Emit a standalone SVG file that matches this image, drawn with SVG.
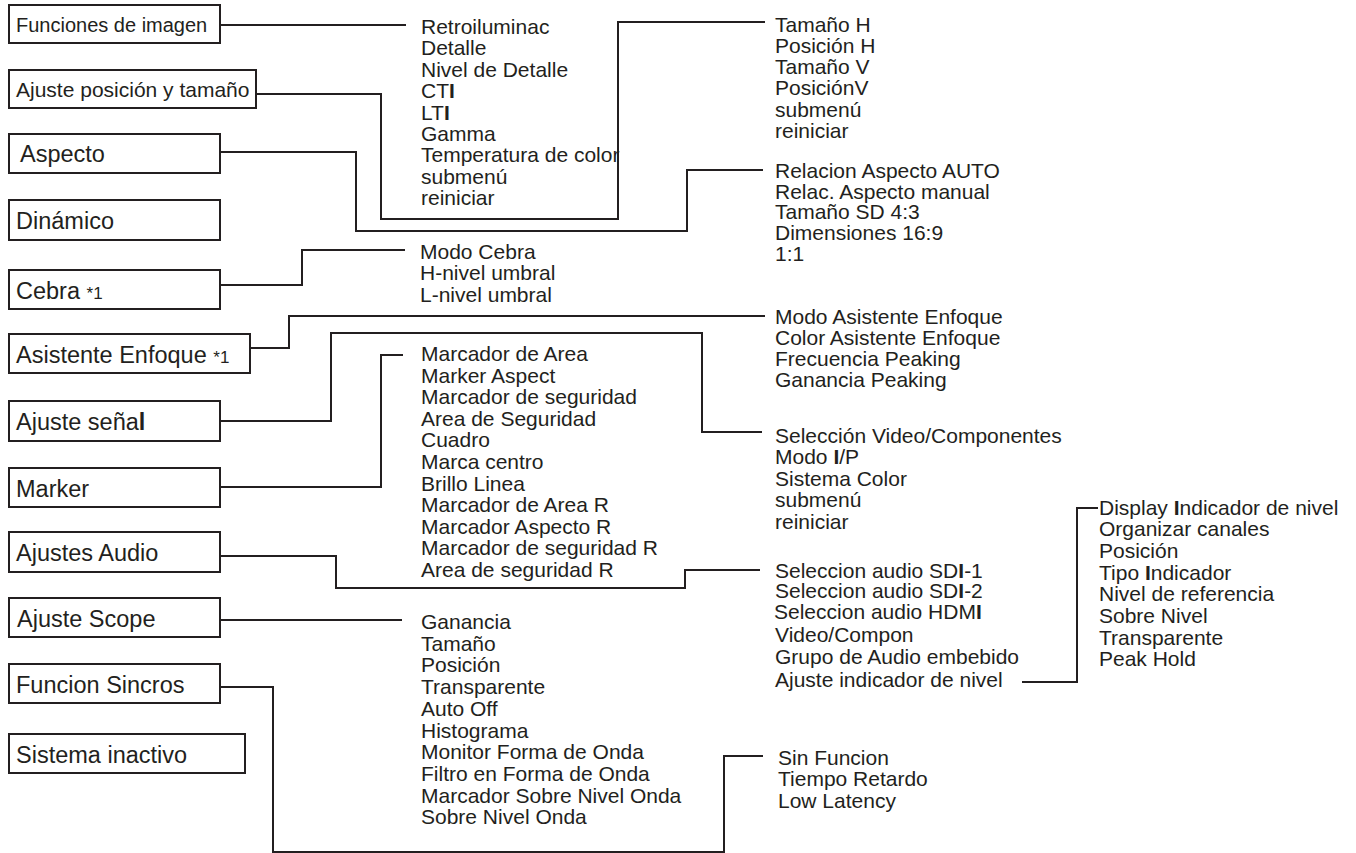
<svg xmlns="http://www.w3.org/2000/svg" width="1356" height="853" viewBox="0 0 1356 853">
<defs>
<style>
.box rect{fill:#fff;stroke:#231f20;stroke-width:2}
.lbl{font-family:"Liberation Sans",Arial,Helvetica,sans-serif;font-size:23.5px;fill:#231f20}
.sm{font-size:17px}
.lst{font-family:"Liberation Sans",Arial,Helvetica,sans-serif;font-size:21px;fill:#231f20}
.b{font-weight:bold}
#connectors path{fill:none;stroke:#231f20;stroke-width:2}
</style>
</defs>
<rect width="1356" height="853" fill="#fff"/>
<g id="connectors">
<path d="M220 25 H406"/>
<path d="M256 94 H381 V219 H618 V22 H765"/>
<path d="M220 152 H356 V231 H687 V170 H763"/>
<path d="M220 285 H302 V250 H405"/>
<path d="M250 348 H289 V316 H765"/>
<path d="M220 421 H331 V333 H702 V432 H762"/>
<path d="M220 487 H381 V355 H403"/>
<path d="M220 556 H336 V588 H685 V570 H760"/>
<path d="M221 620 H402"/>
<path d="M220 687 H273 V852 H724 V756 H763"/>
<path d="M1022 682 H1077 V508 H1098"/>
</g>
<g id="n-funciones" class="box"><rect x="9" y="5" width="211" height="38"/><text class="lbl" x="16" y="32" style="font-size:20px">Funciones de imagen</text></g>
<g id="n-ajuste-pos" class="box"><rect x="9" y="70" width="247" height="38"/><text class="lbl" x="16" y="96.5" style="font-size:21px">Ajuste posición y tamaño</text></g>
<g id="n-aspecto" class="box"><rect x="9" y="134" width="211" height="39"/><text class="lbl" x="20" y="162">Aspecto</text></g>
<g id="n-dinamico" class="box"><rect x="9" y="200" width="211" height="40"/><text class="lbl" x="16" y="228.5">Dinámico</text></g>
<g id="n-cebra" class="box"><rect x="9" y="270" width="211" height="39"/><text class="lbl" x="16" y="298.5">Cebra <tspan class="sm">*1</tspan></text></g>
<g id="n-asistente" class="box"><rect x="9" y="334" width="241" height="39"/><text class="lbl" x="16" y="362.5">Asistente Enfoque <tspan class="sm">*1</tspan></text></g>
<g id="n-senal" class="box"><rect x="9" y="401" width="211" height="40"/><text class="lbl" x="16" y="430">Ajuste seña<tspan class="b">l</tspan></text></g>
<g id="n-marker" class="box"><rect x="9" y="468" width="211" height="39"/><text class="lbl" x="16" y="496.5">Marker</text></g>
<g id="n-audio" class="box"><rect x="9" y="532" width="211" height="40"/><text class="lbl" x="16" y="561">Ajustes Audio</text></g>
<g id="n-scope" class="box"><rect x="9" y="598" width="211" height="39"/><text class="lbl" x="17" y="626.5">Ajuste Scope</text></g>
<g id="n-sincros" class="box"><rect x="9" y="664" width="211" height="39"/><text class="lbl" x="16" y="692.5">Funcion Sincros</text></g>
<g id="n-inactivo" class="box"><rect x="9" y="734" width="236" height="39"/><text class="lbl" x="16" y="762.5">Sistema inactivo</text></g>
<g id="list-imagen" class="lst">
<text x="421" y="34">Retroiluminac</text>
<text x="421" y="55.4">Detalle</text>
<text x="421" y="76.8">Nivel de Detalle</text>
<text x="421" y="98.2">CT<tspan class="b">I</tspan></text>
<text x="421" y="119.6">LT<tspan class="b">I</tspan></text>
<text x="421" y="141">Gamma</text>
<text x="421" y="162.4">Temperatura de color</text>
<text x="421" y="183.8">submenú</text>
<text x="421" y="205.2">reiniciar</text>
</g>
<g id="list-posicion" class="lst">
<text x="775" y="31.5">Tamaño H</text>
<text x="775" y="52.8">Posición H</text>
<text x="775" y="74.1">Tamaño V</text>
<text x="775" y="95.4">PosiciónV</text>
<text x="775" y="116.7">submenú</text>
<text x="775" y="138">reiniciar</text>
</g>
<g id="list-aspecto" class="lst">
<text x="775" y="178">Relacion Aspecto AUTO</text>
<text x="775" y="198.7">Relac. Aspecto manual</text>
<text x="775" y="219.4">Tamaño SD 4:3</text>
<text x="775" y="240.1">Dimensiones 16:9</text>
<text x="775" y="260.8">1:1</text>
</g>
<g id="list-cebra" class="lst">
<text x="420" y="258.5">Modo Cebra</text>
<text x="420" y="280">H-nivel umbral</text>
<text x="420" y="301.5">L-nivel umbral</text>
</g>
<g id="list-enfoque" class="lst">
<text x="775" y="323.5">Modo Asistente Enfoque</text>
<text x="775" y="344.8">Color Asistente Enfoque</text>
<text x="775" y="366.1">Frecuencia Peaking</text>
<text x="775" y="387.4">Ganancia Peaking</text>
</g>
<g id="list-marker" class="lst">
<text x="421" y="361">Marcador de Area</text>
<text x="421" y="382.6">Marker Aspect</text>
<text x="421" y="404.2">Marcador de seguridad</text>
<text x="421" y="425.8">Area de Seguridad</text>
<text x="421" y="447.4">Cuadro</text>
<text x="421" y="469">Marca centro</text>
<text x="421" y="490.6">Brillo Linea</text>
<text x="421" y="512.2">Marcador de Area R</text>
<text x="421" y="533.8">Marcador Aspecto R</text>
<text x="421" y="555.4">Marcador de seguridad R</text>
<text x="421" y="577">Area de seguridad R</text>
</g>
<g id="list-senal" class="lst">
<text x="775" y="442.5">Selección Video/Componentes</text>
<text x="775" y="464">Modo <tspan class="b">I</tspan>/P</text>
<text x="775" y="485.5">Sistema Color</text>
<text x="775" y="507">submenú</text>
<text x="775" y="528.5">reiniciar</text>
</g>
<g id="list-audio" class="lst">
<text x="775" y="577.5">Seleccion audio SD<tspan class="b">I</tspan>-1</text>
<text x="775" y="598">Seleccion audio SD<tspan class="b">I</tspan>-2</text>
<text x="774" y="619">Seleccion audio HDM<tspan class="b">I</tspan></text>
<text x="775" y="642">Video/Compon</text>
<text x="775" y="664">Grupo de Audio embebido</text>
<text x="775" y="686.5">Ajuste indicador de nivel</text>
</g>
<g id="list-indicador" class="lst">
<text x="1099" y="514.5">Display <tspan class="b">I</tspan>ndicador de nivel</text>
<text x="1099" y="536.2">Organizar canales</text>
<text x="1099" y="557.9">Posición</text>
<text x="1099" y="579.6">Tipo <tspan class="b">I</tspan>ndicador</text>
<text x="1099" y="601.3">Nivel de referencia</text>
<text x="1099" y="623">Sobre Nivel</text>
<text x="1099" y="644.7">Transparente</text>
<text x="1099" y="666.4">Peak Hold</text>
</g>
<g id="list-scope" class="lst">
<text x="421" y="629">Ganancia</text>
<text x="421" y="650.7">Tamaño</text>
<text x="421" y="672.4">Posición</text>
<text x="421" y="694.1">Transparente</text>
<text x="421" y="715.8">Auto Off</text>
<text x="421" y="737.5">Histograma</text>
<text x="421" y="759.2">Monitor Forma de Onda</text>
<text x="421" y="780.9">Filtro en Forma de Onda</text>
<text x="421" y="802.6">Marcador Sobre Nivel Onda</text>
<text x="421" y="824.3">Sobre Nivel Onda</text>
</g>
<g id="list-sincros" class="lst">
<text x="778" y="764.5">Sin Funcion</text>
<text x="778" y="786">Tiempo Retardo</text>
<text x="778" y="807.5">Low Latency</text>
</g>
</svg>
